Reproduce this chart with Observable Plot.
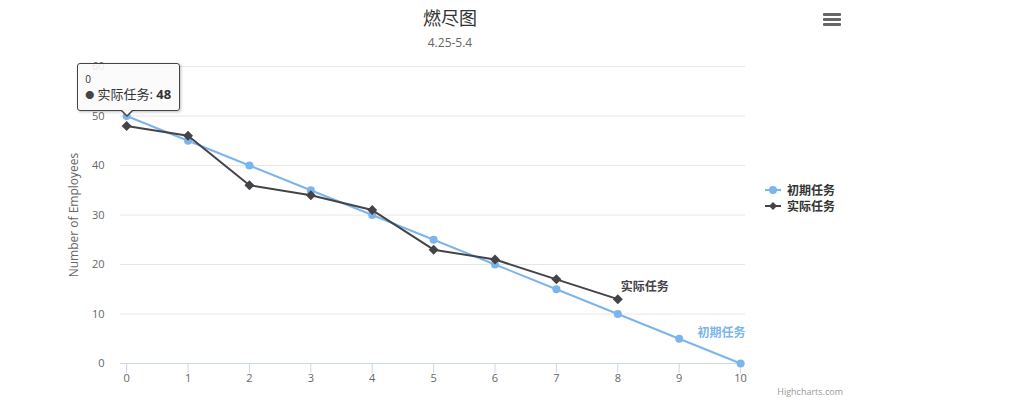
<!DOCTYPE html>
<html><head><meta charset="utf-8">
<script src="https://cdn.jsdelivr.net/npm/d3@7"></script>
<script src="https://cdn.jsdelivr.net/npm/@observablehq/plot@0.6"></script>
<style>
body{margin:0;background:#fff;font-family:"Open Sans","Noto Sans CJK SC",sans-serif;}
#wrap{position:relative;width:1016px;height:405px;overflow:hidden;background:#fff}
.abs{position:absolute;white-space:nowrap}
#title{left:0;width:900px;top:5px;text-align:center;font-size:18px;color:#333;line-height:26px}
#subtitle{left:0;width:900px;top:34px;text-align:center;font-size:12px;color:#666;line-height:18px}
#chart{left:0;top:55px}
#legend{left:765px;top:182px;font-size:12px;font-weight:bold;color:#333}
#legend .item{display:flex;align-items:center;height:16px}
#legend svg{margin-right:6px}
#menu{left:823px;top:13px;width:18px}
#menu div{height:3px;background:#666;margin-bottom:2px;border-radius:1px}
#credits{right:173px;top:385px;font-size:9px;color:#999}
#tip{background:rgba(250,250,250,0.88);border:1px solid #434348;border-radius:3px;padding:8px 8px 7px 7px;box-shadow:1px 1px 3px rgba(0,0,0,0.25);font-size:13px;color:#333;line-height:16px;min-width:84px}
#tip:after,#tip:before{content:"";position:absolute;left:43px;top:100%;border:6px solid transparent}
#tip:before{border-top-color:#434348;margin-left:-1px;border-width:7px}
#tip:after{border-top-color:rgba(250,250,250,1);margin-top:-1px}
</style></head><body><div id="wrap"></div>
<script>
const days = [0,1,2,3,4,5,6,7,8,9,10];
const planned = [50,45,40,35,30,25,20,15,10,5,0];
const actualDays = [0,1,2,3,4,5,6,7,8];
const actual = [48,46,36,34,31,23,21,17,13];
const yTicks = [0,10,20,30,40,50,60];
const seriesNames = ["初期任务","实际任务"];
const colors = ["#7cb5ec","#434348"];
const titleText = "燃尽图";
const subtitleText = "4.25-5.4";
const yLabel = "Number of Employees";
const creditsText = "Highcharts.com";
const tipIndex = 0; // tooltip on 实际任务, first point

const plannedData = days.map((d,i)=>({day:d,value:planned[i],series:seriesNames[0]}));
const actualData = actualDays.map((d,i)=>({day:d,value:actual[i],series:seriesNames[1]}));
const font = '"Open Sans","Noto Sans CJK SC",sans-serif';

const wrap = document.getElementById("wrap");
function add(id, html){const d=document.createElement("div");d.id=id;d.className="abs";d.innerHTML=html;wrap.appendChild(d);return d;}
add("title", titleText);
add("subtitle", subtitleText);

const chart = Plot.plot({
  width:1016, height:350,
  marginLeft:120, marginRight:271, marginTop:11, marginBottom:42,
  style:{fontFamily:font, fontSize:"11px", color:"#666", background:"transparent", overflow:"visible"},
  x:{domain:[-0.1,10.08]},
  y:{domain:[0,60]},
  marks:[
    Plot.gridY(yTicks,{stroke:"#e6e6e6", strokeOpacity:1}),
    Plot.axisY({ticks:yTicks, tickSize:0, tickPadding:16, label:null, fill:"#666"}),
    Plot.ruleY([0],{stroke:"#ccd6eb"}),
    Plot.axisX({ticks:days, tickSize:10, tickPadding:1, label:null, stroke:"#ccd6eb", strokeOpacity:1, fill:"#666", tickFormat:d=>String(d)}),
    Plot.line(plannedData,{x:"day",y:"value",stroke:colors[0],strokeWidth:2}),
    Plot.dot(plannedData,{x:"day",y:"value",r:4,fill:colors[0],symbol:"circle"}),
    Plot.line(actualData,{x:"day",y:"value",stroke:colors[1],strokeWidth:2}),
    Plot.dot(actualData,{x:"day",y:"value",r:4.5,fill:colors[1],symbol:"diamond2"}),
    Plot.text([actualData[actualData.length-1]],{x:"day",y:"value",text:"series",dx:3,dy:-12,textAnchor:"start",fill:colors[1],fontWeight:"bold",fontSize:12,stroke:"white",strokeWidth:3,paintOrder:"stroke"}),
    Plot.text([plannedData[plannedData.length-1]],{x:"day",y:"value",text:"series",dx:5,dy:-30,textAnchor:"end",fill:colors[0],fontWeight:"bold",fontSize:12,stroke:"white",strokeWidth:3,paintOrder:"stroke"})
  ]
});
const holder = add("chart","");
holder.appendChild(chart);
d3.select(chart).append("text")
  .attr("transform","translate(78,160) rotate(-90)")
  .attr("text-anchor","middle").attr("fill","#666").attr("font-size",12)
  .attr("font-family",font).text(yLabel);

// legend
const legend = add("legend","");
seriesNames.forEach((s,i)=>{
  const it=document.createElement("div");it.className="item";
  const sym = i===0 ? `<circle cx="8" cy="4" r="4" fill="${colors[i]}"/>` : `<path d="M8 0 L12 4 L8 8 L4 4 Z" fill="${colors[i]}"/>`;
  it.innerHTML=`<svg width="16" height="8"><line x1="0" x2="16" y1="4" y2="4" stroke="${colors[i]}" stroke-width="2"/>${sym}</svg>${s}`;
  legend.appendChild(it);
});

add("menu","<div></div><div></div><div></div>");
add("credits", creditsText);

// tooltip anchored on the data point via scales
const sx = chart.scale("x"), sy = chart.scale("y");
const px = sx.apply(actualDays[tipIndex]);
const py = sy.apply(actual[tipIndex]) + 55;
const tip = add("tip", `<div style="font-size:10px;line-height:14px">${actualDays[tipIndex]}</div><span style="color:${colors[1]};font-size:9px;vertical-align:1px">●</span> ${seriesNames[1]}: <b>${actual[tipIndex]}</b>`);
tip.style.left = (px - 49) + "px";
tip.style.top = (py - 62) + "px";
</script></body></html>
